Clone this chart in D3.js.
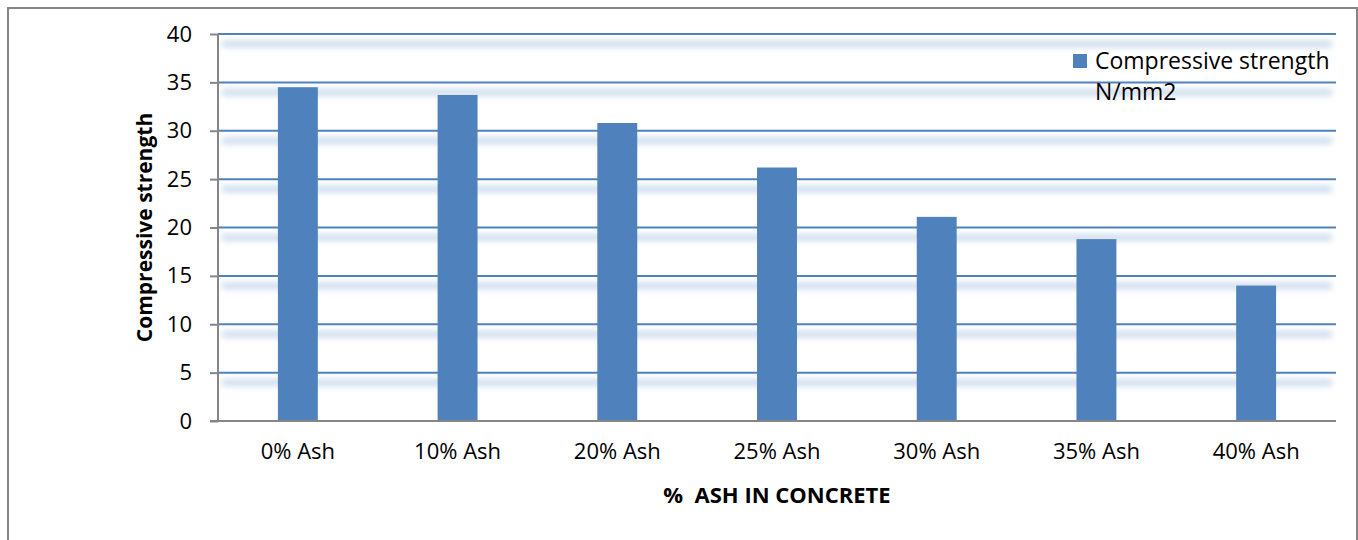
<!DOCTYPE html>
<html lang="en">
<head>
  <meta charset="UTF-8" />
  <title>Compressive strength vs ash</title>
  <script src="https://d3js.org/d3.v7.min.js"></script>
  <style>
    html, body {
      margin: 0;
      padding: 0;
      background: white;
      overflow: hidden;
    }
    text {
      font-family: "Open Sans", "Noto Sans", sans-serif;
      fill: black;
      white-space: pre;
    }
  </style>
</head>
<body>
  <svg id="chart" width="1358" height="540"></svg>

  <script>
    const categories = ["0% Ash", "10% Ash", "20% Ash", "25% Ash", "30% Ash", "35% Ash", "40% Ash"];
    const strength = [34.5, 33.7, 30.8, 26.2, 21.1, 18.8, 14.0];
    const yTicks = [0, 5, 10, 15, 20, 25, 30, 35, 40];

    const barColor = "#4f81bd";
    const axisColor = "#868686";
    const plot = { left: 218, right: 1336, top: 34, bottom: 421 };

    const svg = d3.select("#chart");

    // blur used for the soft shadow under each gridline
    const defs = svg.append("defs");
    defs.append("filter")
      .attr("id", "glow")
      .attr("filterUnits", "userSpaceOnUse")
      .attr("x", 0).attr("y", 0)
      .attr("width", 1358).attr("height", 540)
      .append("feGaussianBlur")
      .attr("stdDeviation", 3);

    // chart frame
    svg.append("rect")
      .attr("x", 8).attr("y", 8)
      .attr("width", 1349).attr("height", 560)
      .attr("fill", "none")
      .attr("stroke", axisColor)
      .attr("stroke-width", 2);

    const x = d3.scaleBand()
      .domain(categories)
      .range([plot.left, plot.right])
      .paddingInner(0.75)
      .paddingOuter(0.375);

    const y = d3.scaleLinear()
      .domain([0, 40])
      .range([plot.bottom, plot.top]);

    // gridline shadows
    svg.append("g")
      .attr("filter", "url(#glow)")
      .selectAll("rect")
      .data(yTicks.filter(d => d > 0))
      .join("rect")
      .attr("x", plot.left + 4)
      .attr("width", plot.right - plot.left - 8)
      .attr("y", d => y(d) + 7)
      .attr("height", 6)
      .attr("fill", "#c8d8ec");

    // gridlines
    svg.append("g")
      .selectAll("line")
      .data(yTicks.filter(d => d > 0))
      .join("line")
      .attr("x1", plot.left)
      .attr("x2", plot.right)
      .attr("y1", d => y(d))
      .attr("y2", d => y(d))
      .attr("stroke", barColor)
      .attr("stroke-width", 2);

    // bars
    svg.append("g")
      .selectAll("rect")
      .data(strength)
      .join("rect")
      .attr("x", (d, i) => x(categories[i]))
      .attr("y", d => y(d))
      .attr("width", x.bandwidth())
      .attr("height", d => y(0) - y(d))
      .attr("fill", barColor);

    // y axis
    const yAxis = svg.append("g")
      .attr("transform", `translate(${plot.left},0)`)
      .call(d3.axisLeft(y).tickValues(yTicks).tickSize(8).tickPadding(18));
    yAxis.select(".domain").attr("stroke", axisColor).attr("stroke-width", 2)
      .attr("d", `M0,${plot.top}V${plot.bottom}`);
    yAxis.selectAll(".tick line").attr("stroke", axisColor).attr("stroke-width", 2);
    yAxis.selectAll(".tick text")
      .style("font-size", "22px")
      .style("font-family", "'Open Sans', sans-serif");

    // x axis
    const xAxis = svg.append("g")
      .attr("transform", `translate(0,${plot.bottom})`)
      .call(d3.axisBottom(x).tickSize(0).tickPadding(22));
    xAxis.select(".domain").attr("stroke", axisColor).attr("stroke-width", 2)
      .attr("d", `M${plot.left - 8},0H${plot.right}`);
    xAxis.selectAll(".tick text")
      .style("font-size", "22px")
      .style("font-family", "'Open Sans', sans-serif");

    // axis titles
    svg.append("text")
      .attr("x", (plot.left + plot.right) / 2)
      .attr("y", 503)
      .attr("text-anchor", "middle")
      .style("font-size", "22px")
      .style("font-weight", "bold")
      .text("%  ASH IN CONCRETE");

    svg.append("text")
      .attr("transform", `translate(152,${(plot.top + plot.bottom) / 2}) rotate(-90)`)
      .attr("text-anchor", "middle")
      .style("font-size", "21px")
      .style("font-weight", "bold")
      .text("Compressive strength");

    // legend
    const legend = svg.append("g").attr("transform", "translate(1073,54)");
    legend.append("rect")
      .attr("width", 14).attr("height", 14)
      .attr("fill", barColor);
    legend.append("text")
      .attr("x", 22).attr("y", 15)
      .style("font-size", "23px")
      .text("Compressive strength");
    legend.append("text")
      .attr("x", 22).attr("y", 46)
      .style("font-size", "23px")
      .text("N/mm2");
  </script>
</body>
</html>
